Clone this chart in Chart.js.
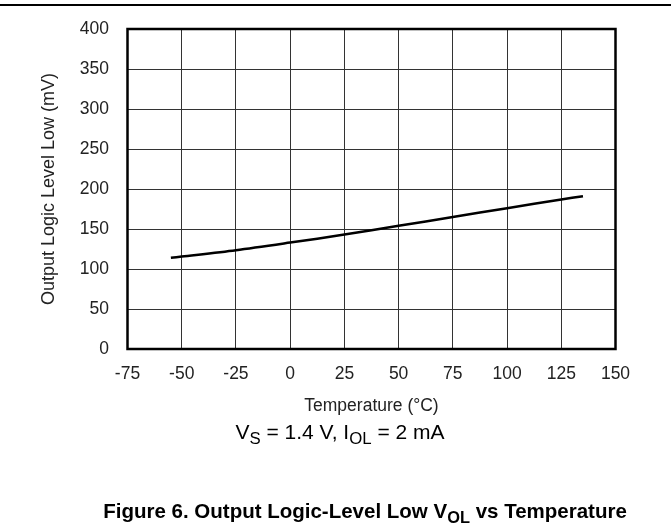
<!DOCTYPE html>
<html>
<head>
<meta charset="utf-8">
<script src="https://cdn.jsdelivr.net/npm/chart.js@4"></script>
<style>
  html, body { margin: 0; padding: 0; background: #fff; }
  body { width: 671px; height: 531px; position: relative; overflow: hidden; font-family: "Liberation Sans", Arial, sans-serif; color: #000; }
  #rule { position: absolute; left: 0; top: 4px; width: 671px; height: 2px; background: #000; }
  #wrap { position: absolute; left: 0; top: 0; width: 671px; height: 531px; }
  .note { position: absolute; white-space: nowrap; text-align: center; }
  #cond { left: 140px; width: 400px; top: 420px; font-size: 21px; }
  #caption { left: 65px; width: 600px; top: 499px; font-size: 20.5px; font-weight: bold; }
  sub { font-size: 0.8em; vertical-align: -0.3em; line-height: 0; }
</style>
</head>
<body>
<div id="rule"></div>
<div id="wrap"><canvas id="chart" width="671" height="531"></canvas></div>
<div id="cond" class="note">V<sub>S</sub> = 1.4 V, I<sub>OL</sub> = 2 mA</div>
<div id="caption" class="note">Figure 6. Output Logic-Level Low V<sub>OL</sub> vs Temperature</div>
<script>
// Output logic level low vs temperature
const temps = [-55, -50, -25, 0, 25, 50, 75, 100, 125, 135];
const volMv = [114, 115.5, 123.5, 133, 143, 154, 165, 176, 187, 191];

const xTitle = 'Temperature (°C)';
const yTitle = 'Output Logic Level Low (mV)';

const fam = '"Liberation Sans", Arial, sans-serif';
const tickFont = { family: fam, size: 17.5 };

// outline of the plot area, drawn thicker than the grid
const frame = {
    id: 'frame',
    afterDatasetsDraw(chart) {
        const { ctx, chartArea: a } = chart;
        ctx.save();
        ctx.strokeStyle = '#000';
        ctx.lineWidth = 2.5;
        ctx.strokeRect(a.left, a.top, a.right - a.left, a.bottom - a.top);
        ctx.restore();
    }
};

new Chart(document.getElementById('chart'), {
    type: 'line',
    data: {
        datasets: [{
            data: temps.map((t, i) => ({ x: t, y: volMv[i] })),
            borderColor: '#000',
            borderWidth: 2.5,
            pointRadius: 0,
            tension: 0.3,
            fill: false
        }]
    },
    options: {
        responsive: false,
        animation: false,
        layout: { padding: { top: 20, right: 55.5, left: 0, bottom: 112 } },
        plugins: { legend: { display: false }, tooltip: { enabled: false } },
        scales: {
            x: {
                type: 'linear',
                min: -75, max: 150,
                afterFit: s => { s.height = 70; },
                grid: { color: '#333', lineWidth: 1, drawTicks: false },
                border: { display: false },
                ticks: { stepSize: 25, color: '#222', font: tickFont, padding: 15, maxRotation: 0 },
                title: { display: true, text: xTitle, color: '#222', font: tickFont, padding: { top: 0, bottom: 2.5 } }
            },
            y: {
                min: 0, max: 400,
                afterFit: s => { s.width = 127.5; },
                grid: { color: '#333', lineWidth: 1, drawTicks: false },
                border: { display: false },
                ticks: { stepSize: 50, color: '#222', font: tickFont, padding: 18.5 },
                title: { display: true, text: yTitle, color: '#222', font: { family: fam, size: 18 }, padding: { top: 38, bottom: 0 } }
            }
        }
    },
    plugins: [frame]
});
</script>
</body>
</html>
